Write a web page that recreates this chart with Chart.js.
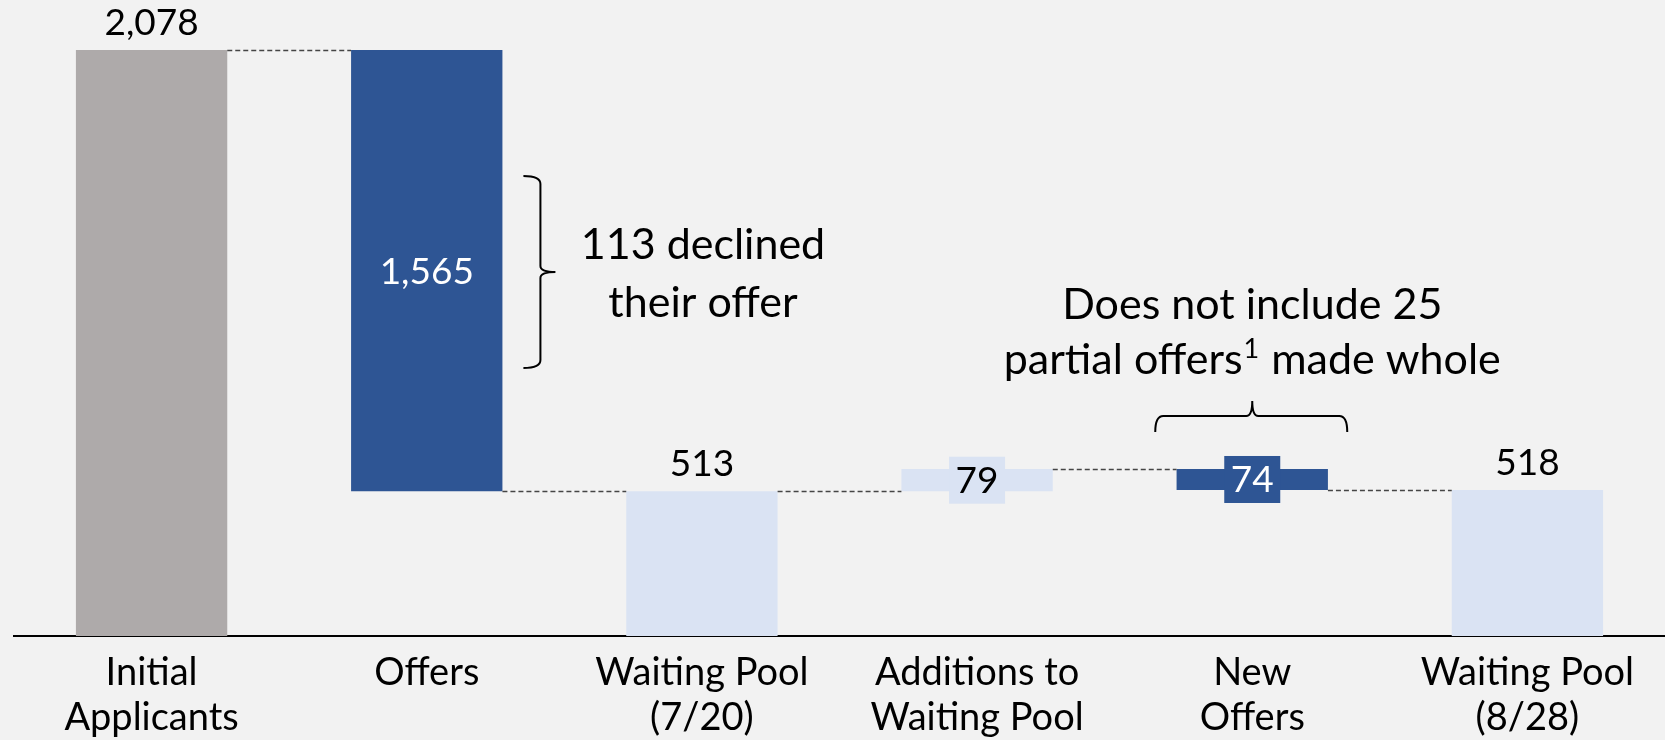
<!DOCTYPE html>
<html>
<head>
<meta charset="utf-8">
<script src="https://cdn.jsdelivr.net/npm/chart.js@4.4.1/dist/chart.umd.min.js"></script>
<style>
  html, body { margin: 0; padding: 0; background: #F2F2F2; }
  #wrap { position: relative; width: 1665px; height: 740px; }
</style>
</head>
<body>
<div id="wrap"><canvas id="c" width="1665" height="740"></canvas></div>
<script>
// ---- data ----
const categories = [["Initial", "Applicants"], "Offers", ["Waiting Pool", "(7/20)"], ["Additions to", "Waiting Pool"], ["New", "Offers"], ["Waiting Pool", "(8/28)"]];
const values = [2078, -1565, 513, 79, -74, 518];
const isTotal = [true, false, true, false, false, true];
const valueLabels = ["2,078", "1,565", "513", "79", "74", "518"];
const yMax = 2078;

// ---- styles ----
const GRAY = '#AEAAAA', BLUE = '#2E5594', LIGHT = '#DAE3F3';
const barColors = [GRAY, BLUE, LIGHT, LIGHT, BLUE, LIGHT];
const FONT = 'Lato, "Open Sans", sans-serif';

// build floating ranges from values
const ranges = [];
const levels = [];
let running = 0;
values.forEach((v, i) => {
  if (isTotal[i]) { ranges.push([0, v]); running = v; }
  else { ranges.push([running, running + v]); running += v; }
  levels.push(running);
});

const decor = {
  id: 'decor',
  afterDatasetsDraw(chart) {
    const ctx = chart.ctx;
    const meta = chart.getDatasetMeta(0);
    const y = chart.scales.y;
    const bars = meta.data;
    ctx.save();
    // connectors
    ctx.strokeStyle = '#454545';
    ctx.lineWidth = 1.4;
    ctx.setLineDash([5, 3]);
    for (let i = 0; i < bars.length - 1; i++) {
      const a = bars[i], b = bars[i + 1];
      const py = Math.round(y.getPixelForValue(levels[i])) + 0.5;
      ctx.beginPath();
      ctx.moveTo(a.x + a.width / 2, py);
      ctx.lineTo(b.x - b.width / 2, py);
      ctx.stroke();
    }
    ctx.setLineDash([]);
    // value labels
    ctx.textAlign = 'center';
    ctx.textBaseline = 'middle';
    ctx.font = '37px ' + FONT;
    bars.forEach((b, i) => {
      const top = Math.min(b.y, b.base), bot = Math.max(b.y, b.base);
      const h = bot - top;
      const dark = barColors[i] === BLUE;
      if (isTotal[i]) {
        ctx.fillStyle = '#000';
        ctx.fillText(valueLabels[i], b.x, top - 27);
      } else if (h > 60) {
        ctx.fillStyle = dark ? '#fff' : '#000';
        ctx.fillText(valueLabels[i], b.x, (top + bot) / 2 + 1);
      } else {
        const cy = (top + bot) / 2;
        ctx.fillStyle = barColors[i];
        ctx.fillRect(b.x - 28, cy - 23.5, 56, 47);
        ctx.fillStyle = dark ? '#fff' : '#000';
        ctx.fillText(valueLabels[i], b.x, cy + 1);
      }
    });
    // annotation 1: right brace next to Offers bar
    const ob = bars[1];
    const bx = ob.x + ob.width / 2 + 38;
    const t1 = 176, b1 = 368, m1 = (t1 + b1) / 2;
    ctx.strokeStyle = '#000';
    ctx.lineWidth = 2;
    ctx.beginPath();
    ctx.moveTo(bx - 17, t1);
    ctx.quadraticCurveTo(bx, t1, bx, t1 + 8);
    ctx.lineTo(bx, m1 - 6);
    ctx.quadraticCurveTo(bx, m1, bx + 15, m1);
    ctx.quadraticCurveTo(bx, m1, bx, m1 + 6);
    ctx.lineTo(bx, b1 - 8);
    ctx.quadraticCurveTo(bx, b1, bx - 17, b1);
    ctx.stroke();
    ctx.fillStyle = '#000';
    ctx.font = '43px ' + FONT;
    ctx.fillText('113 declined', 703, 245);
    ctx.fillText('their offer', 703, 303);

    // annotation 2: brace above New Offers
    const nb = bars[4];
    const cx = nb.x;
    const l2 = cx - 97, r2 = cx + 95, hy = 416;
    ctx.beginPath();
    ctx.moveTo(l2, 432);
    ctx.quadraticCurveTo(l2, hy, l2 + 8, hy);
    ctx.lineTo(cx - 6, hy);
    ctx.quadraticCurveTo(cx, hy, cx, 401);
    ctx.quadraticCurveTo(cx, hy, cx + 6, hy);
    ctx.lineTo(r2 - 8, hy);
    ctx.quadraticCurveTo(r2, hy, r2, 432);
    ctx.stroke();
    ctx.font = '43px ' + FONT;
    ctx.fillText('Does not include 25', cx, 305);
    // second line with superscript
    const p1 = 'partial offers', sup = '1', p2 = ' made whole';
    ctx.font = '43px ' + FONT;
    const w1 = ctx.measureText(p1).width, w3 = ctx.measureText(p2).width;
    ctx.font = '27px ' + FONT;
    const w2 = ctx.measureText(sup).width + 2;
    const total = w1 + w2 + w3;
    let sx = cx - total / 2;
    ctx.textAlign = 'left';
    ctx.font = '43px ' + FONT;
    ctx.fillText(p1, sx, 360);
    ctx.font = '27px ' + FONT;
    ctx.fillText(sup, sx + w1 + 1, 349);
    ctx.font = '43px ' + FONT;
    ctx.fillText(p2, sx + w1 + w2, 360);
    ctx.restore();
  }
};

new Chart(document.getElementById('c'), {
  type: 'bar',
  data: {
    labels: categories,
    datasets: [{
      data: ranges,
      backgroundColor: barColors,
      borderWidth: 0,
      borderSkipped: false,
      categoryPercentage: 1,
      barPercentage: 0.55
    }]
  },
  options: {
    responsive: false,
    animation: false,
    events: [],
    layout: { padding: { left: 14, right: 0, top: 50, bottom: 0 } },
    plugins: { legend: { display: false }, tooltip: { enabled: false } },
    scales: {
      y: {
        display: false,
        min: 0,
        max: yMax
      },
      x: {
        grid: { display: false, drawTicks: false },
        border: { display: true, color: '#000', width: 2 },
        ticks: {
          color: '#000',
          font: { family: FONT, size: 38, lineHeight: 1.184 },
          padding: 14.5,
          maxRotation: 0,
          autoSkip: false
        },
        afterFit(scale) { scale.height = 104; }
      }
    }
  },
  plugins: [decor]
});
</script>
</body>
</html>
